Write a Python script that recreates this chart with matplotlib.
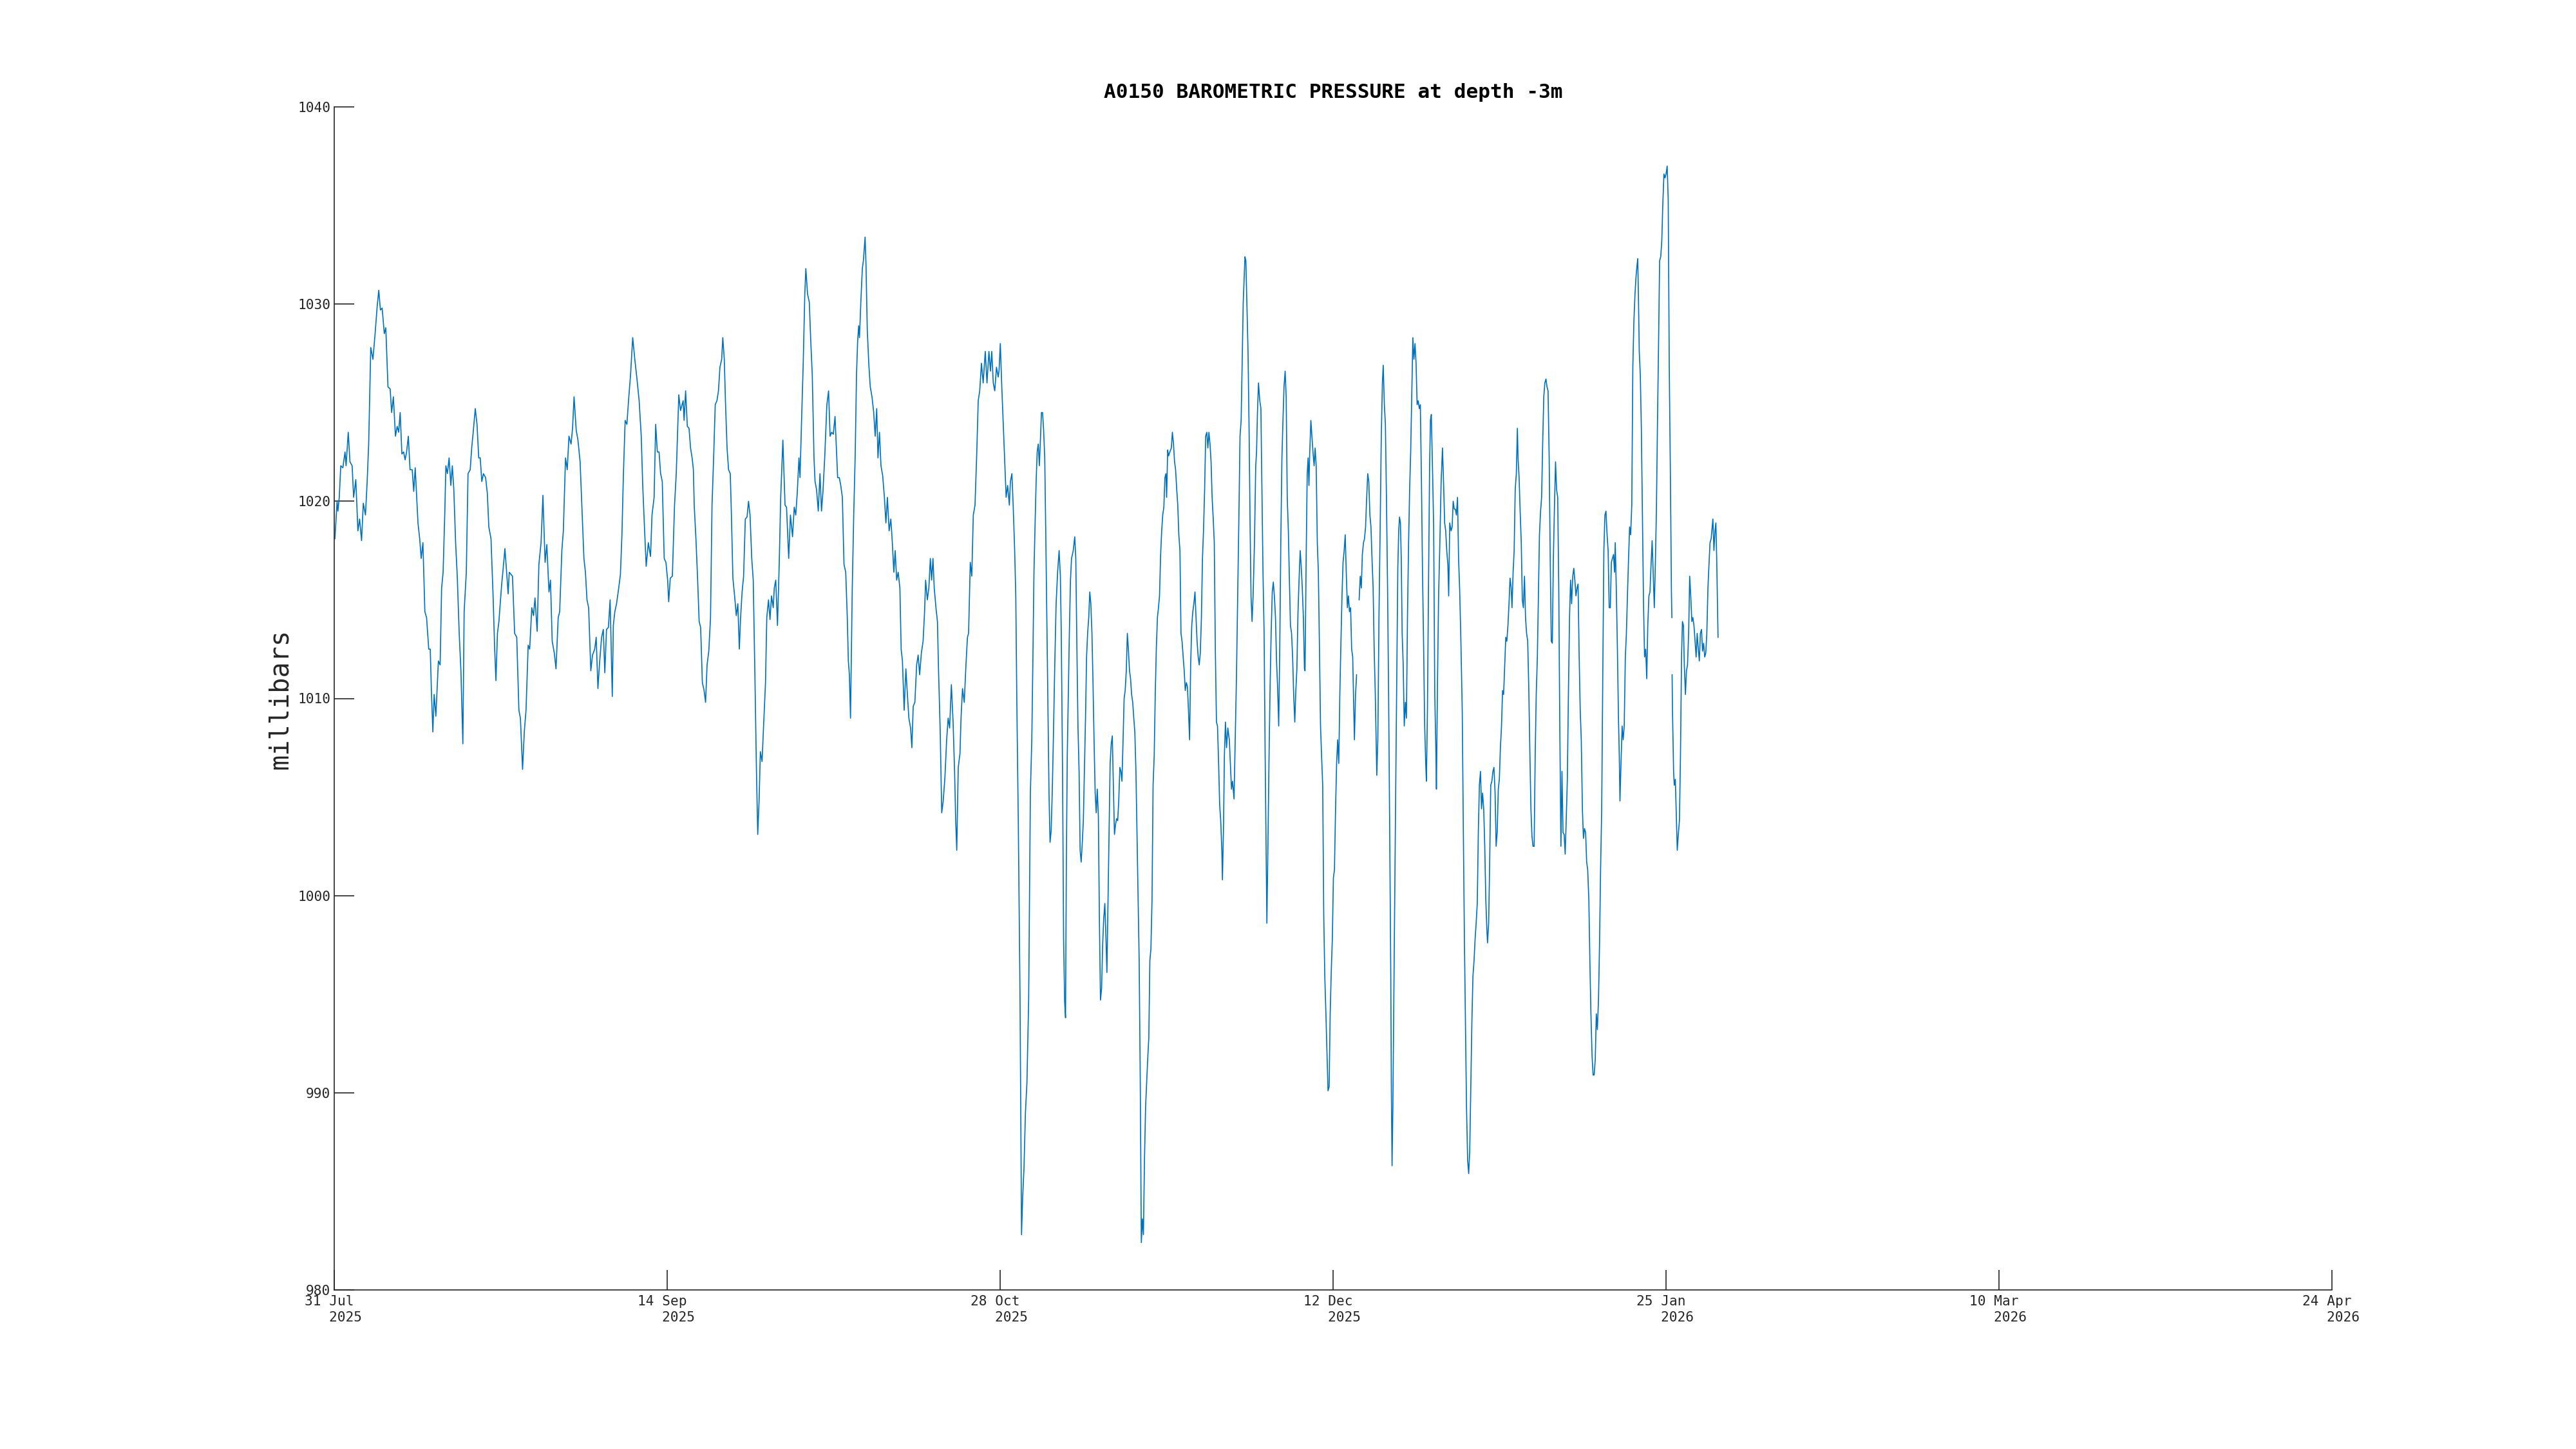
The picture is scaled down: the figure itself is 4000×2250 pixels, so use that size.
import numpy as np
import matplotlib
matplotlib.use("Agg")
import matplotlib.pyplot as plt
from matplotlib.transforms import ScaledTranslation

# ---------------- data ----------------
# time axis: days since 31 Jul 2025 00:00 ; NaN marks a gap in the record
days = [
    0.11, 0.40, 0.51, 0.69, 0.89, 1.17, 1.46, 1.60, 1.89, 2.12, 2.41, 2.61, 2.90, 3.18, 3.41, 3.67, 3.90, 4.19,
    4.42, 4.62, 4.90, 5.19, 5.48, 5.76, 5.97, 6.19, 6.42, 6.71, 6.91, 7.20, 7.49, 7.69, 7.92, 8.20, 8.43, 8.63,
    8.83, 9.06, 9.29, 9.49, 9.69, 9.92, 10.15, 10.44, 10.64, 10.84, 11.21, 11.44, 11.64, 11.87, 12.13, 12.36,
    12.65, 12.85, 13.02, 13.20, 13.37, 13.60, 13.94, 14.17, 14.37, 14.57, 14.80, 14.94, 15.14, 15.37, 15.60,
    15.80, 16.00, 16.24, 16.46, 16.72, 16.95, 17.21, 17.38, 17.67, 17.90, 18.19, 18.39, 18.59, 18.87, 19.10,
    19.33, 19.53, 19.74, 19.96, 20.25, 20.48, 20.68, 20.97, 21.25, 21.46, 21.63, 21.83, 22.03, 22.20, 22.40,
    22.60, 22.83, 23.06, 23.26, 23.41,
    23.84, 24.13, 24.41, 24.70, 24.90, 25.19, 25.42, 25.65, 25.94, 26.14, 26.42, 26.65, 26.85, 27.14, 27.37,
    27.66, 27.91, 28.20, 28.43, 28.72, 28.92, 29.15, 29.43, 29.66, 29.95, 30.15, 30.44, 30.64, 30.93, 31.16,
    31.39, 31.67, 31.87, 32.07, 32.36, 32.59, 32.88, 33.11, 33.39, 33.59, 33.80, 34.02, 34.31, 34.54, 34.83,
    35.03, 35.26, 35.46, 35.75, 35.98, 36.18, 36.41, 36.66, 36.89, 37.18, 37.32, 37.52, 37.75, 38.04, 38.27,
    38.47, 38.67, 38.90, 39.13, 39.39, 39.62, 39.91, 40.19, 40.48, 40.77, 41.05, 41.25, 41.48, 41.71, 42.00,
    42.29, 42.49, 42.77, 42.98, 43.20, 43.43, 43.64, 43.86, 44.12, 44.35, 44.58, 44.72, 44.93, 45.21, 45.50,
    45.73, 45.93, 46.07, 46.30, 46.65,
    46.78, 46.98, 47.21, 47.44, 47.64, 47.85, 48.02, 48.13, 48.36, 48.59, 48.79, 48.99, 49.22, 49.45, 49.65,
    49.85, 50.08, 50.31, 50.51, 50.71, 50.94, 51.17, 51.37, 51.57, 51.80, 51.95, 52.15, 52.32, 52.52, 52.72,
    52.95, 53.09, 53.30, 53.53, 53.75, 53.96, 54.16, 54.33, 54.53, 54.73, 54.96, 55.19, 55.39, 55.59, 55.82,
    56.02, 56.25, 56.45, 56.62, 56.80, 56.97, 57.20, 57.40, 57.66, 57.83, 58.06, 58.26, 58.46, 58.69, 58.83,
    59.03, 59.26, 59.49, 59.69, 59.98, 60.27, 60.47, 60.76, 60.99, 61.27, 61.50, 61.70, 61.90, 62.13, 62.27,
    62.48, 62.70, 62.91, 63.05, 63.28, 63.51, 63.71, 63.91, 64.14, 64.28, 64.48, 64.71, 64.94, 65.14, 65.34,
    65.57, 65.86, 66.09, 66.29, 66.49, 66.72, 66.95, 67.15, 67.30, 67.52, 67.72, 67.93, 68.15, 68.38, 68.59,
    68.73, 68.87, 69.02,
    69.25, 69.45, 69.65, 69.82, 69.97, 70.11, 70.22, 70.40, 70.60, 70.74, 70.97, 71.09, 71.26, 71.46, 71.66,
    71.89, 72.12, 72.32, 72.52, 72.69, 72.89, 73.09, 73.32, 73.55, 73.75, 73.95, 74.18, 74.41, 74.61, 74.81,
    74.99, 75.19, 75.39, 75.62, 75.79, 75.96, 76.19, 76.42, 76.62, 76.82, 77.05, 77.22, 77.40, 77.62, 77.86,
    78.06, 78.26, 78.49, 78.72, 78.92, 79.06, 79.29, 79.49, 79.69, 79.86, 80.04, 80.21, 80.44, 80.64, 80.78,
    81.01, 81.21, 81.41, 81.64, 81.87, 82.07, 82.27, 82.50, 82.73, 82.93, 83.08, 83.22, 83.42, 83.65, 83.79,
    83.99, 84.22, 84.45, 84.65, 84.80, 85.03, 85.23, 85.43, 85.66, 85.89, 86.09, 86.29, 86.52, 86.75, 87.03,
    87.26, 87.52, 87.72, 87.90, 88.10, 88.30, 88.53, 88.76, 88.87, 89.04, 89.24, 89.44, 89.62, 89.82, 90.02,
    90.25, 90.39, 90.59, 90.76, 90.96, 91.11, 91.25, 91.45, 91.68, 91.88, 92.03, 92.20, 92.40, 92.60, 92.83,
    93.06,
    93.25, 93.40, 93.54, 93.68, 93.83, 93.97, 94.11, 94.26, 94.40, 94.54, 94.69, 94.83, 94.98, 95.12, 95.26,
    95.41, 95.55, 95.69, 95.84, 95.98, 96.12, 96.32, 96.50, 96.70, 96.90, 97.07, 97.19, 97.36, 97.50, 97.64,
    97.76, 97.87, 97.99, 98.13, 98.27, 98.42, 98.56, 98.79, 98.99, 99.13, 99.28, 99.42, 99.57, 99.71, 99.85,
    100.00, 100.14, 100.28, 100.43, 100.57, 100.71, 100.86, 101.00, 101.14, 101.29, 101.43, 101.57, 101.72,
    101.86, 102.00, 102.15, 102.29, 102.43, 102.58, 102.72, 102.86, 103.01, 103.15, 103.29, 103.44, 103.58,
    103.72, 103.87, 104.01, 104.15, 104.30, 104.44, 104.58, 104.73, 104.87, 105.02, 105.16, 105.30, 105.45,
    105.59, 105.73, 105.88, 106.02, 106.16, 106.31, 106.45, 106.59, 106.74, 106.88, 107.02, 107.17, 107.31,
    107.45, 107.60, 107.74, 107.89, 108.03, 108.17, 108.31, 108.46, 108.60, 108.74, 108.89, 109.03, 109.17,
    109.32, 109.46, 109.61, 109.75, 109.89, 110.04, 110.18, 110.32, 110.47, 110.61, 110.75, 110.90, 111.04,
    111.18, 111.27, 111.41, 111.53, 111.70, 111.90, 112.04, 112.19, 112.33, 112.47, 112.62, 112.76, 112.90,
    113.05, 113.19, 113.33, 113.48, 113.62, 113.76, 113.91, 114.05, 114.19, 114.34, 114.48, 114.63, 114.77,
    114.91, 115.06, 115.20, 115.34, 115.49, 115.63, 115.77, 115.92, 116.06, 116.20, 116.35,
    116.49, 116.64, 116.78, 116.92, 117.07, 117.21, 117.35, 117.50, 117.64, 117.78, 117.93, 118.07, 118.22,
    118.36, 118.50, 118.65, 118.73, 118.88, 118.99, 119.13, 119.28, 119.45, 119.65, 119.79, 119.94, 120.08,
    120.28, 120.42, 120.60, 120.80, 120.94, 121.08, 121.23, 121.37, 121.51, 121.60, 121.74, 121.86, 122.03,
    122.15, 122.29, 122.43, 122.55, 122.69, 122.83, 123.01, 123.18, 123.29, 123.41, 123.55, 123.72, 123.87,
    124.01, 124.15, 124.30, 124.44, 124.55, 124.67, 124.81, 124.96, 125.10, 125.24, 125.39, 125.53, 125.67,
    125.82, 125.96, 126.10, 126.25, 126.39, 126.53, 126.68, 126.82, 126.96, 127.11, 127.25, 127.39, 127.54,
    127.68, 127.82, 127.97, 128.11, 128.25, 128.40, 128.54, 128.68, 128.83, 128.97, 129.12, 129.26, 129.40,
    129.55, 129.69, 129.77, 129.92, 130.06, 130.18, 130.29, 130.40, 130.55, 130.69, 130.83, 130.98, 131.12,
    131.26, 131.41, 131.55, 131.70, 131.84, 131.98, 132.13, 132.27, 132.41, 132.56, 132.70, 132.84, 132.99,
    133.13, 133.27, 133.42, 133.56, 133.70, 133.85, 133.99, 134.13, 134.28, 134.42, 134.57, 134.71, 134.85,
    135.00, 135.14, 135.28, 135.43, 135.57, 135.71, 135.86, 136.00, 136.14, 136.29, 136.37, 136.52, 136.66,
    136.83,
    137.00, 137.15, 137.29, 137.43, 137.58, 137.72, 137.86, 138.01, 138.15, 138.29, 138.44, 138.58, 138.72,
    138.87, 139.01,
    139.16, 139.36, 139.50, 139.65, 139.82, 139.96, 140.11, 140.22, 140.37, 140.51, 140.65, 140.80, 140.94,
    141.08, 141.23, 141.31, 141.40, 141.51, 141.66, 141.80, 141.94, 142.09, 142.17, 142.29, 142.40, 142.52,
    142.63, 142.75, 142.89, 143.03, 143.18, 143.32, 143.46, 143.61, 143.75, 143.89, 144.04, 144.18, 144.32,
    144.47, 144.61, 144.75, 144.90, 145.04, 145.18, 145.33, 145.47, 145.61, 145.76, 145.90, 145.99, 146.13,
    146.27, 146.42, 146.53, 146.65, 146.82, 146.96, 147.11, 147.25, 147.33, 147.48, 147.62, 147.79, 147.96,
    148.14, 148.28, 148.43, 148.57, 148.71, 148.86, 148.97, 149.11, 149.29, 149.43, 149.57, 149.72, 149.86,
    150.00, 150.15, 150.29, 150.43, 150.58, 150.78, 150.92, 151.07, 151.21, 151.35, 151.50, 151.64, 151.78,
    151.93, 152.07, 152.21, 152.36, 152.50, 152.64, 152.79, 152.93, 153.07, 153.22, 153.36, 153.50, 153.65,
    153.79, 153.93, 154.08, 154.16, 154.31, 154.45, 154.59, 154.74, 154.88, 155.02, 155.17, 155.31, 155.45,
    155.60, 155.74, 155.88, 156.03, 156.17, 156.31, 156.46, 156.60, 156.74, 156.89, 157.03, 157.17, 157.32,
    157.43, 157.58, 157.72, 157.86, 158.01, 158.15, 158.24, 158.38, 158.52, 158.67, 158.81, 158.95, 159.10,
    159.24, 159.38, 159.53, 159.67, 159.81, 159.96, 160.10, 160.24, 160.39, 160.53, 160.67, 160.82, 160.96,
    161.10, 161.25, 161.39, 161.53, 161.68, 161.82, 161.97, 162.11, 162.25, 162.40, 162.54, 162.68,
    162.82, 162.96, 163.11, 163.25, 163.39, 163.54, 163.68, 163.82, 163.97, 164.11, 164.25, 164.40, 164.54,
    164.69, 164.83, 164.97, 165.12, 165.26, 165.40, 165.55, 165.69, 165.83, 165.98, 166.12, 166.26, 166.41,
    166.55, 166.69, 166.84, 166.98, 167.12, 167.27, 167.41, 167.55, 167.70, 167.84, 167.98, 168.13, 168.27,
    168.41, 168.56, 168.70, 168.84, 168.99, 169.13, 169.27, 169.42, 169.56, 169.71, 169.85, 169.99, 170.14,
    170.28, 170.42, 170.57, 170.71, 170.85, 171.00, 171.14, 171.23, 171.37, 171.52, 171.66, 171.77, 171.86,
    172.00, 172.15, 172.29, 172.43, 172.58, 172.72, 172.86, 173.01, 173.15, 173.29, 173.44, 173.58, 173.72,
    173.87, 174.01, 174.15, 174.24, 174.35, 174.44, 174.58, 174.72, 174.87, 175.01, 175.15, 175.30, 175.44,
    175.58, 175.73, 175.87, 176.02, 176.16, 176.30, 176.45, 176.59, 176.73, 176.88, 177.02, 177.16, 177.31,
    177.45, 177.59, 177.74, 177.88, 178.02, 178.17, 178.31, 178.45, 178.60, 178.74, 178.80,
    178.815,
    178.83, 178.88, 179.03, 179.12, 179.26, 179.40, 179.52, 179.66, 179.81, 179.95, 180.09, 180.21, 180.35,
    180.46, 180.61, 180.75, 180.89, 181.04, 181.18, 181.32, 181.47, 181.61, 181.75, 181.90, 182.04, 182.18,
    182.33, 182.47, 182.61, 182.76, 182.90, 183.04, 183.19, 183.33, 183.47, 183.62, 183.76, 183.90, 184.05,
    184.19, 184.28, 184.42, 184.56, 184.68, 184.79, 184.97,
]

pressure_mb = [
    1018.1, 1020.0, 1019.5, 1020.2, 1021.8, 1021.7, 1022.5, 1021.8, 1023.5, 1022.0, 1021.8, 1020.2, 1021.1,
    1018.5, 1019.1, 1018.0, 1019.9, 1019.3, 1021.0, 1022.9, 1027.8, 1027.2, 1028.5, 1029.9, 1030.7, 1029.7,
    1029.8, 1028.5, 1028.8, 1025.8, 1025.7, 1024.5, 1025.3, 1023.3, 1023.8, 1023.5, 1024.5, 1022.4, 1022.5,
    1022.1, 1022.5, 1023.3, 1021.6, 1021.6, 1020.5, 1021.7, 1018.9, 1018.1, 1017.1, 1017.9, 1014.4, 1014.1,
    1012.5, 1012.5, 1010.2, 1008.3, 1010.2, 1009.1, 1011.9, 1011.7, 1015.6, 1016.4, 1019.5, 1021.8, 1021.4,
    1022.2, 1020.8, 1021.8, 1020.6, 1017.9, 1016.2, 1013.3, 1011.4, 1007.7, 1014.4, 1016.4, 1021.4, 1021.6,
    1022.7, 1023.5, 1024.7, 1023.9, 1022.2, 1022.2, 1021.0, 1021.4, 1021.2, 1020.4, 1018.7, 1018.1, 1015.2,
    1012.5, 1010.9, 1013.3, 1013.9, 1014.8, 1015.8, 1016.6, 1017.6, 1016.4, 1015.3, 1016.4,
    1016.2, 1013.3, 1013.1, 1009.4, 1009.0, 1006.4, 1008.3, 1009.4, 1012.7, 1012.5, 1014.6, 1014.2, 1015.1,
    1013.4, 1016.8, 1017.9, 1020.3, 1016.9, 1017.8, 1015.4, 1016.0, 1012.9, 1012.3, 1011.5, 1014.1, 1014.4,
    1017.5, 1018.5, 1022.2, 1021.6, 1023.3, 1022.9, 1023.7, 1025.3, 1023.6, 1023.1, 1022.0, 1019.8, 1017.1,
    1016.4, 1015.0, 1014.6, 1011.4, 1012.2, 1012.5, 1013.1, 1010.5, 1011.7, 1013.1, 1013.5, 1011.3, 1013.5,
    1013.6, 1015.0, 1010.1, 1013.7, 1014.4, 1014.8, 1015.6, 1016.3, 1018.3, 1021.4, 1024.1, 1023.9, 1025.3,
    1026.4, 1028.3, 1027.2, 1026.2, 1025.1, 1023.3, 1020.8, 1018.7, 1016.7, 1017.9, 1017.2, 1019.3, 1020.2,
    1023.9, 1022.5, 1022.5, 1021.4, 1021.0, 1017.1, 1016.9, 1016.0, 1014.9, 1016.1, 1016.2, 1019.8, 1021.4,
    1023.7, 1025.4, 1024.6, 1025.1,
    1024.1, 1025.6, 1023.8, 1023.7, 1022.7, 1022.2, 1021.6, 1019.8, 1018.1, 1016.0, 1013.9, 1013.6, 1010.8,
    1010.4, 1009.8, 1011.7, 1012.4, 1014.1, 1019.8, 1022.0, 1024.9, 1025.1, 1025.6, 1026.8, 1027.2, 1028.3,
    1027.2, 1024.9, 1022.7, 1021.6, 1021.4, 1019.5, 1016.1, 1015.2, 1014.2, 1014.8, 1012.5, 1014.1, 1015.4,
    1016.2, 1019.1, 1019.2, 1020.0, 1019.3, 1017.1, 1016.0, 1011.0, 1006.3, 1003.1, 1004.8, 1007.3, 1006.8,
    1008.6, 1010.8, 1014.1, 1015.0, 1014.0, 1015.2, 1014.6, 1015.6, 1016.0, 1013.7, 1016.8, 1020.2, 1023.1,
    1019.8, 1019.7, 1017.1, 1019.3, 1018.2, 1019.7, 1019.3, 1020.4, 1022.2, 1021.2, 1024.1, 1027.0, 1030.5,
    1031.8, 1030.5, 1030.1, 1028.1, 1026.4, 1022.2, 1021.0, 1020.6, 1019.5, 1021.4, 1019.5, 1020.5, 1022.2,
    1024.9, 1025.6, 1023.3, 1023.5, 1023.4, 1024.3, 1022.5, 1021.2, 1021.2, 1020.8, 1020.2, 1016.8, 1016.4,
    1014.1, 1011.9, 1011.2, 1009.0,
    1015.5, 1019.3, 1022.4, 1026.4, 1028.1, 1028.9, 1028.3, 1030.1, 1031.8, 1032.2, 1033.4, 1032.0, 1028.7,
    1027.0, 1025.8, 1025.3, 1024.5, 1023.3, 1024.7, 1022.2, 1023.5, 1021.8, 1021.3, 1020.2, 1018.9, 1020.2,
    1018.5, 1019.1, 1017.9, 1016.4, 1017.5, 1016.0, 1016.4, 1015.6, 1012.5, 1011.9, 1009.4, 1011.5, 1010.2,
    1009.0, 1008.5, 1007.5, 1009.6, 1009.8, 1011.7, 1012.2, 1011.2, 1012.3, 1012.9, 1014.4, 1016.0, 1015.0,
    1015.6, 1017.1, 1016.0, 1017.1, 1015.6, 1014.6, 1013.9, 1011.5, 1008.3, 1004.2, 1004.8, 1006.0, 1007.9,
    1009.0, 1008.5, 1010.7, 1008.8, 1006.3, 1003.8, 1002.3, 1006.5, 1007.2, 1009.0, 1010.5, 1009.8, 1011.7,
    1013.1, 1013.3, 1016.9, 1016.2, 1019.3, 1019.8, 1022.4, 1025.1, 1025.6, 1027.0, 1026.0, 1027.6, 1026.0,
    1027.6, 1026.6, 1027.6, 1026.0, 1025.6, 1026.8, 1026.3, 1026.6, 1028.0, 1025.8, 1023.9, 1022.2, 1020.2,
    1020.8, 1019.8, 1021.0, 1021.4, 1019.8, 1017.5, 1015.2, 1009.8, 1003.6, 994.7, 982.8, 984.7, 986.1,
    989.0, 990.5, 994.7, 1005.2,
    1007.9, 1012.1, 1016.4, 1018.7, 1021.0, 1022.5, 1022.9, 1021.8, 1023.1, 1024.5, 1024.5, 1023.6, 1022.2,
    1018.3, 1014.1, 1009.4, 1005.2, 1002.7, 1003.3, 1005.2, 1007.7, 1011.7, 1014.8, 1016.4, 1017.5, 1016.2,
    1013.3, 1006.3, 997.8, 994.6, 993.8, 1001.7, 1007.1, 1010.2, 1013.3, 1016.0, 1017.1, 1017.5, 1018.2,
    1017.1, 1012.5, 1008.6, 1006.3, 1002.3, 1001.7, 1002.7, 1003.8, 1006.3, 1009.0, 1012.1, 1013.3, 1014.1,
    1015.4, 1014.8, 1013.3, 1010.8, 1007.9, 1005.2, 1004.2, 1005.4, 1004.0, 998.6, 994.7, 995.3, 997.5,
    998.8, 999.6, 998.0, 996.1, 999.8, 1003.2, 1006.7, 1007.7, 1008.1, 1005.6, 1003.1, 1003.6, 1003.9,
    1003.8, 1004.8, 1006.5, 1006.3, 1005.8, 1007.9, 1010.0, 1010.4, 1011.4, 1013.3, 1012.5, 1011.4, 1011.0,
    1010.2, 1009.8, 1009.0, 1008.3, 1006.3, 1003.2, 1000.2, 996.7, 990.9, 982.4, 983.6, 982.8, 986.6, 989.3,
    990.5, 991.7, 992.8, 996.7, 997.3, 999.8, 1005.6, 1007.1, 1010.2, 1012.5, 1014.1, 1014.6, 1015.2, 1017.3,
    1018.5, 1019.3, 1019.7, 1021.2, 1021.4, 1020.2, 1022.6, 1022.3, 1022.5, 1022.7, 1023.5, 1022.9, 1022.0,
    1021.6, 1020.6, 1019.8, 1018.3, 1017.5, 1013.3, 1012.9, 1012.1, 1011.4, 1010.4, 1010.8, 1010.6, 1009.4,
    1007.9, 1011.7, 1013.7, 1014.4, 1014.8, 1015.4, 1014.1, 1012.9, 1012.1, 1011.7, 1012.3, 1014.1, 1017.1,
    1018.5, 1020.6,
    1023.3, 1023.5, 1022.7, 1023.5, 1022.9, 1022.0, 1020.2, 1019.1, 1017.9, 1012.5, 1008.8, 1008.6, 1006.7,
    1004.6, 1003.8, 1002.3, 1000.8, 1003.6, 1007.1, 1008.8, 1007.5, 1008.5, 1007.9, 1006.7, 1005.4, 1005.8,
    1004.9, 1007.5, 1011.0, 1016.0, 1019.5, 1023.3, 1024.1, 1027.2, 1030.1, 1031.0, 1032.4, 1032.2, 1029.5,
    1027.6, 1023.7, 1018.7, 1015.2, 1013.9, 1015.2, 1017.9, 1021.8, 1022.5, 1024.5, 1026.0, 1025.1, 1024.7,
    1020.6, 1016.4, 1013.3, 1007.1, 1002.9, 998.6, 1002.5, 1007.1, 1010.6, 1013.3, 1015.4, 1015.9, 1015.2,
    1014.1, 1011.9, 1010.6, 1008.6, 1012.5, 1017.9, 1022.2, 1024.1, 1025.8, 1026.6, 1025.3, 1020.2, 1018.5,
    1016.0, 1013.7, 1013.3, 1012.1, 1010.2, 1008.8, 1010.4, 1011.5, 1014.4, 1016.0, 1017.5, 1016.7, 1015.6,
    1014.1, 1011.5, 1011.4, 1017.1, 1021.4, 1022.2, 1020.8, 1022.5, 1024.1, 1023.3, 1022.5, 1021.8, 1022.7,
    1021.8, 1017.9, 1016.4, 1012.5, 1008.6, 1007.1, 1005.6, 999.0, 995.9, 994.0, 992.0, 990.1, 990.3, 994.0,
    996.1, 997.8, 1000.9, 1001.3, 1004.4, 1006.7, 1007.9, 1006.7, 1010.2, 1012.9, 1015.2, 1016.9, 1017.5,
    1018.3, 1016.4, 1014.6, 1015.2, 1014.4, 1014.6, 1012.5, 1012.1, 1009.4, 1007.9, 1010.2, 1011.2,
    np.nan,
    1015.0, 1016.2, 1015.6, 1017.3, 1017.9, 1018.1, 1018.7, 1020.2, 1021.4, 1021.0, 1019.3, 1018.7, 1017.1,
    1015.6, 1012.5,
    1010.2, 1006.1, 1007.9, 1014.1, 1018.9, 1023.3, 1026.0, 1026.9, 1024.9, 1023.9, 1020.2, 1015.6, 1010.2,
    1003.6, 995.9, 990.1, 986.3, 989.3, 995.9, 1001.7, 1007.5, 1013.3, 1016.6, 1018.5, 1019.2, 1018.9,
    1017.1, 1013.3, 1011.7, 1008.6, 1009.8, 1009.0, 1014.1, 1017.9, 1020.6, 1022.5, 1025.6, 1028.3, 1027.2,
    1028.0, 1027.0, 1024.9, 1025.1, 1024.7, 1024.9, 1021.0, 1016.4, 1012.9, 1008.6, 1006.7, 1005.8, 1009.4,
    1015.6, 1021.8, 1024.1, 1024.4, 1021.4, 1018.7, 1010.2, 1007.5, 1005.4, 1011.0, 1015.2, 1017.9, 1021.0,
    1022.7, 1021.0, 1018.9, 1018.5, 1017.5, 1016.8, 1015.2, 1018.9, 1018.5, 1018.7, 1020.0, 1019.6, 1019.6,
    1019.3, 1020.2, 1017.1, 1015.6, 1013.3, 1009.4, 1003.6, 997.8, 993.6, 989.3, 986.6, 985.9, 987.0,
    990.5, 993.6, 995.9, 996.7, 997.8, 998.6, 999.6, 1003.2, 1005.6, 1006.3, 1004.4, 1005.2, 1004.4,
    1002.5, 999.8, 998.2, 997.6, 998.6, 1001.7, 1005.6, 1005.8, 1006.3, 1006.5, 1005.2, 1002.5, 1003.2,
    1005.4, 1005.9, 1007.5, 1008.6, 1010.4, 1010.2, 1011.7, 1013.1, 1012.9, 1013.7, 1014.8, 1016.1, 1015.6,
    1014.6, 1016.4, 1017.5, 1020.6, 1021.4, 1023.7, 1022.2, 1021.2, 1019.5, 1017.9, 1015.0, 1014.6, 1016.2,
    1014.1, 1013.3, 1012.9, 1010.6, 1007.5, 1004.4, 1003.0, 1002.5, 1002.5, 1007.1, 1010.2, 1012.1, 1015.2,
    1018.3, 1019.5, 1020.2, 1022.9, 1025.3, 1026.0, 1026.2, 1025.8, 1025.6, 1022.2, 1017.1, 1012.9,
    1012.8, 1017.1, 1019.8, 1022.0, 1020.6, 1020.2, 1015.6, 1008.6, 1002.5, 1006.3, 1003.2, 1003.1, 1002.1,
    1004.0, 1005.9, 1010.2, 1014.1, 1016.0, 1014.8, 1016.2, 1016.6, 1016.0, 1015.2, 1015.6, 1015.8, 1012.1,
    1009.4, 1007.9, 1004.4, 1002.9, 1003.4, 1003.2, 1001.7, 1001.3, 999.8, 996.7, 994.0, 991.9, 990.9,
    990.9, 991.7, 994.0, 993.2, 994.7, 997.5, 1001.3, 1004.4, 1011.0, 1017.5, 1019.3, 1019.5, 1018.3,
    1017.5, 1014.6, 1014.6, 1016.9, 1017.1, 1017.3, 1016.4, 1017.9, 1015.6, 1012.5, 1009.0, 1007.1, 1004.8,
    1006.7, 1008.6, 1007.9, 1008.6, 1012.1, 1013.3, 1015.2, 1017.1, 1018.7, 1018.3, 1019.8, 1026.8, 1029.1,
    1030.5, 1031.4, 1032.0, 1032.3, 1029.9, 1027.6, 1026.4, 1023.7, 1019.1, 1014.8, 1012.1, 1012.5, 1011.0,
    1013.7, 1015.2, 1015.4, 1016.8, 1018.0, 1016.4, 1014.6, 1016.8, 1019.5, 1024.1, 1028.0, 1032.2, 1032.4,
    1033.2, 1035.1, 1036.6, 1036.4, 1036.6, 1037.0, 1035.3, 1026.8, 1021.4, 1015.4, 1014.1,
    np.nan,
    1011.2, 1009.4, 1006.3, 1005.6, 1005.9, 1004.0, 1002.3, 1003.1, 1003.8, 1007.1, 1012.1, 1013.9, 1013.7,
    1011.7, 1010.2, 1011.4, 1011.7, 1013.3, 1016.2, 1015.2, 1013.9, 1014.1, 1013.7, 1012.9, 1012.1, 1013.3,
    1012.5, 1011.9, 1013.3, 1013.5, 1012.4, 1012.8, 1012.1, 1012.3, 1013.3, 1015.6, 1016.8, 1017.9, 1018.1,
    1018.7, 1019.1, 1017.5, 1018.5, 1018.9, 1017.1, 1013.1,
]

axis_span_days = 267  # 31 Jul 2025 -> 24 Apr 2026
x_tick_labels = ["31 Jul\n    2025", "14 Sep\n    2025", "28 Oct\n    2025", "12 Dec\n    2025",
                 "25 Jan\n    2026", "10 Mar\n    2026", "24 Apr\n    2026"]
y_ticks = [980, 990, 1000, 1010, 1020, 1030, 1040]
title_text = "A0150 BAROMETRIC PRESSURE at depth -3m"
y_label_text = "millibars"

# ---------------- drawing ----------------
MONO = "DejaVu Sans Mono"
AX_COLOR = "#262626"
LINE_COLOR = "#0072BD"

fig = plt.figure(figsize=(20, 11.25), dpi=200)
ax = fig.add_axes([0.1297, 0.1098, 0.7755, 0.8164])

ax.plot(days, pressure_mb, color=LINE_COLOR, lw=0.6, solid_joinstyle="round")

ax.set_xlim(0, axis_span_days)
ax.set_ylim(y_ticks[0], y_ticks[-1])
ax.set_xticks(np.linspace(0, axis_span_days, len(x_tick_labels)))
ax.set_xticklabels(x_tick_labels, fontfamily=MONO, fontsize=7.6, color=AX_COLOR, linespacing=1.3)
ax.set_yticks(y_ticks)
ax.set_yticklabels([str(v) for v in y_ticks], fontfamily=MONO, fontsize=7.6, color=AX_COLOR)

ax.tick_params(axis="both", direction="in", length=11.2, width=0.6, color=AX_COLOR)
ax.tick_params(axis="x", pad=3.0)
ax.tick_params(axis="y", pad=2.0)

for side in ("top", "right"):
    ax.spines[side].set_visible(False)
for side in ("left", "bottom"):
    ax.spines[side].set_color(AX_COLOR)
    ax.spines[side].set_linewidth(0.6)

shift = ScaledTranslation(-8 / 200, 0, fig.dpi_scale_trans)
for lab in ax.get_xticklabels():
    lab.set_transform(lab.get_transform() + shift)

ax.set_title(title_text, fontfamily=MONO, fontsize=11.2, fontweight="bold", color="black", pad=5)
ax.set_ylabel(y_label_text, fontfamily=MONO, fontsize=14.5, color=AX_COLOR)
ax.yaxis.label.set_va("center")
ax.yaxis.set_label_coords(-0.0268, 0.5)

fig.savefig("out.png", dpi=200, facecolor="white")
